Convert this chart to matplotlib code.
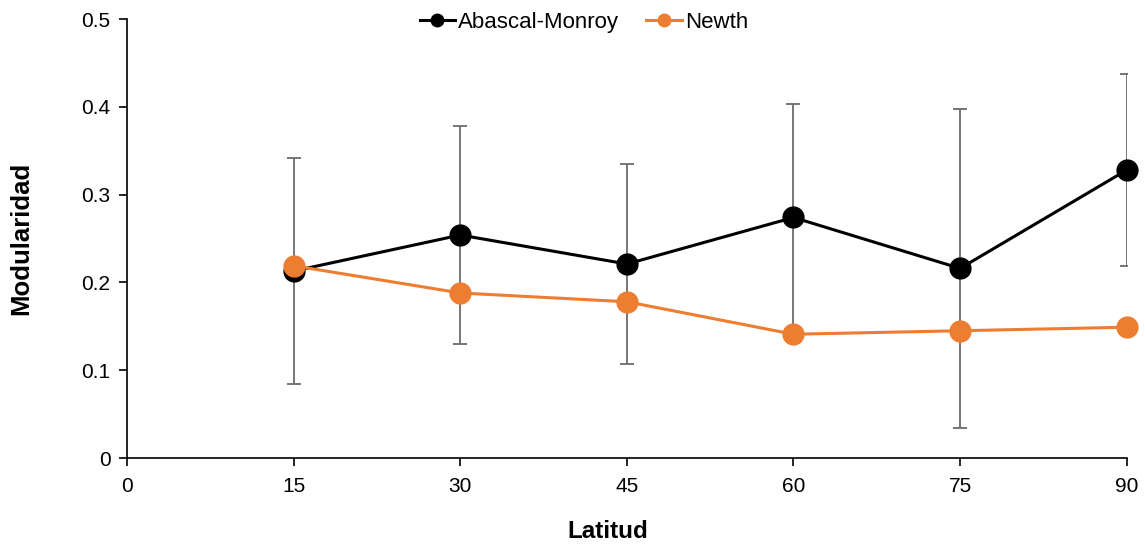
import matplotlib
matplotlib.use("Agg")
import matplotlib.pyplot as plt

plt.rcParams['font.family'] = ['Liberation Sans', 'DejaVu Sans']

latitud = [15, 30, 45, 60, 75, 90]
abascal = [0.213, 0.254, 0.221, 0.274, 0.216, 0.328]
abascal_err = [0.129, 0.124, 0.114, 0.129, 0.182, 0.109]
newth = [0.219, 0.188, 0.178, 0.141, 0.145, 0.149]
xticks = [0, 15, 30, 45, 60, 75, 90]
yticks = [0, 0.1, 0.2, 0.3, 0.4, 0.5]

fig = plt.figure(figsize=(11.45, 5.44), dpi=100)
ax = fig.add_axes([0.111, 0.158, 0.873, 0.807])

ax.errorbar(latitud, abascal, yerr=abascal_err, fmt='none', ecolor='#6b6b6b',
            elinewidth=1.3, capsize=5, capthick=1.3, zorder=1)
ax.plot(latitud, abascal, color='black', lw=2.2, marker='o', markersize=15,
        label='Abascal-Monroy', zorder=3, clip_on=False)
ax.plot(latitud, newth, color='#ED7D31', lw=2.2, marker='o', markersize=15,
        label='Newth', zorder=4, clip_on=False)

ax.set_xlim(0, 90)
ax.set_ylim(0, 0.5)
ax.set_xticks(xticks)
ax.set_xticklabels([str(v) for v in xticks])
ax.set_yticks(yticks)
ax.set_yticklabels(['0'] + [f'{v:.1f}' for v in yticks[1:]])
for s in ['top', 'right']:
    ax.spines[s].set_visible(False)
for s in ['left', 'bottom']:
    ax.spines[s].set_linewidth(1.2)
ax.tick_params(axis='both', labelsize=15, direction='out', length=6, width=1.2, pad=6)
ax.tick_params(axis='x', pad=8)

ax.set_xlabel('Latitud', fontsize=17.5, fontweight='bold')
ax.xaxis.set_label_coords(0.481, -0.142)
ax.set_ylabel('Modularidad', fontsize=18.5, fontweight='bold')
ax.yaxis.set_label_coords(-0.094, 0.5)

ax.legend(loc='center', bbox_to_anchor=(0.457, 0.993), ncol=2, frameon=False,
          fontsize=16, handlelength=1.6, handletextpad=0.15, columnspacing=1.2,
          markerscale=0.6, borderaxespad=0)

fig.savefig('out.png', dpi=100)
